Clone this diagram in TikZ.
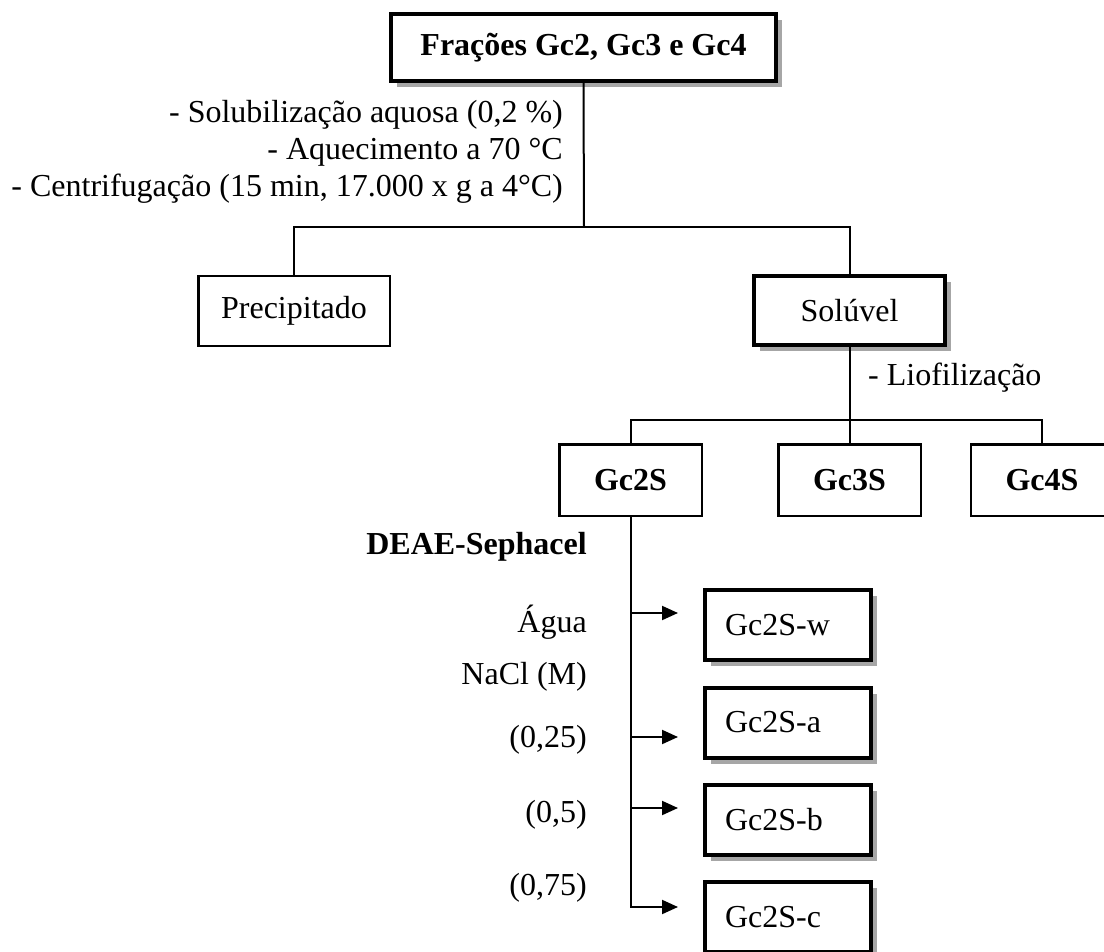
\documentclass[tikz,border=0pt]{standalone}
\usepackage{fontspec}
\setmainfont{Liberation Serif}
\usetikzlibrary{arrows.meta,shadows}
\begin{document}
\begin{tikzpicture}[x=1pt,y=-1pt,
  every node/.style={font=\fontsize{32}{37}\selectfont, inner sep=0pt},
  thinbox/.style={draw, line width=2.5pt, fill=white},
  thickbox/.style={draw, line width=4pt, fill=white,
    drop shadow={shadow xshift=6pt, shadow yshift=-6pt, fill=black!35, opacity=1}},
  smallbox/.style={thinbox, minimum width=142.5pt, minimum height=71.5pt, font=\fontsize{32}{37}\selectfont\bfseries},
  fracbox/.style={thickbox, minimum width=166pt, minimum height=70pt, text width=126pt, inner xsep=20pt, align=left},
  conn/.style={line width=2pt},
  arr/.style={line width=2pt, -{Triangle[length=16pt,width=14pt]}, shorten >=25pt},
  lbl/.style={anchor=east, align=right}
]
\useasboundingbox (0,0) rectangle (1104,952);
\fill[white] (0,0) rectangle (1104,952);
\clip (0,0) rectangle (1104,952);

% boxes
\node[thickbox, minimum width=385pt, minimum height=67pt, font=\fontsize{32}{37}\selectfont\bfseries] (frac) at (583.5,47.5) {Frações Gc2, Gc3 e Gc4};
\node[thinbox, minimum width=191.5pt, minimum height=69.5pt] (prec) at (294,311) {Precipitado};
\node[thickbox, minimum width=191pt, minimum height=69pt] (sol) at (849.5,310.5) {Solúvel};
\node[smallbox] (gc2) at (630.5,480) {Gc2S};
\node[smallbox] (gc3) at (849.5,480) {Gc3S};
\node[smallbox] (gc4) at (1042,480) {Gc4S};
\node[fracbox] (gcw) at (788,625) {Gc2S-w};
\node[fracbox] (gca) at (788,722.5) {Gc2S-a};
\node[fracbox] (gcb) at (788,820) {Gc2S-b};
\node[fracbox] (gcc) at (788,917) {Gc2S-c};

% texts
\node[lbl] (steps) at (563,152) {- Solubilização aquosa (0,2 \%)\\- Aquecimento a 70 °C\\- Centrifugação (15 min, 17.000 x g a 4°C)};
\node[anchor=west] (lio) at (868,378) {- Liofilização};
\node[lbl, font=\fontsize{32}{37}\selectfont\bfseries] (deae) at (587,547) {DEAE-Sephacel};
\node[lbl] (agua) at (587,622) {Água};
\node[lbl] (nacl) at (587,677) {NaCl (M)};
\node[lbl] (c25) at (587,740) {(0,25)};
\node[lbl] (c5) at (587,815) {(0,5)};
\node[lbl] (c75) at (587,888) {(0,75)};

% connectors
\coordinate (j1) at (584,227);
\coordinate (j2) at (849.5,420);
\coordinate (tw) at (631,613);
\coordinate (ta) at (631,737);
\coordinate (tb) at (631,808);
\coordinate (tc) at (631,907);
\draw[conn] (frac.south) -- (j1);
\draw[conn] (prec.north) |- (j1) -| (sol.north);
\draw[conn] (sol.south) -- (gc3.north);
\draw[conn] (gc2.north) |- (j2) -| (gc4.north);
\draw[arr] (gc2.south) |- (tc -| gcc.west);
\draw[arr] (tw) -- (tw -| gcw.west);
\draw[arr] (ta) -- (ta -| gca.west);
\draw[arr] (tb) -- (tb -| gcb.west);
\end{tikzpicture}
\end{document}
